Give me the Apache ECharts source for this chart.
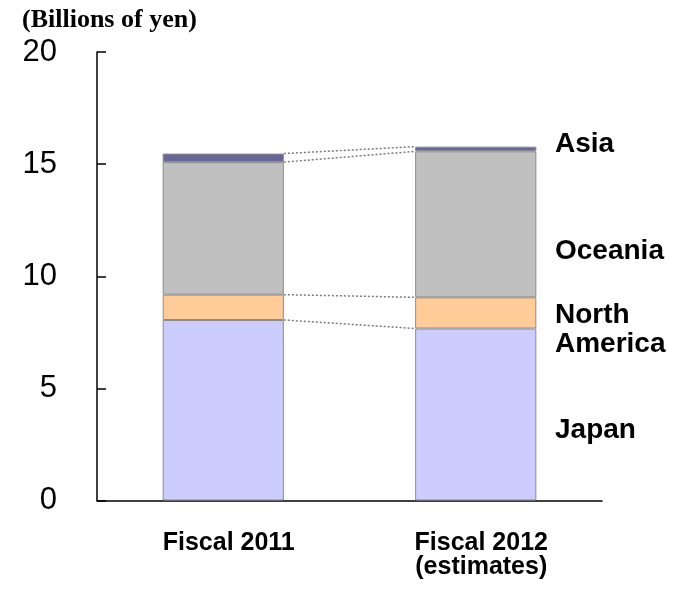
<!DOCTYPE html>
<html>
<head>
<meta charset="utf-8">
<script src="https://cdn.jsdelivr.net/npm/echarts@6/dist/echarts.min.js"></script>
<style>
  html, body { margin: 0; padding: 0; background: #fff; }
  #chart { width: 684px; height: 591px; }
</style>
</head>
<body>
<div id="chart"></div>
<script>
// Sales by region, billions of yen
const categories = ['Fiscal 2011', 'Fiscal 2012\n(estimates)'];
const regions = ['Japan', 'North America', 'Oceania', 'Asia'];
const japan = [8.05, 7.67];
const northAmerica = [1.13, 1.39];
const oceania = [5.91, 6.51];
const asia = [0.38, 0.21];
const yTicks = [0, 5, 10, 15, 20];

const regionValues = [japan, northAmerica, oceania, asia];
const regionColors = ['#CCCCFF', '#FFCC99', '#C0C0C0', '#666699'];
const barWidthRatio = 0.48;

// Cumulative tops of each stacked segment, used for the dotted connectors
const connectorData = [];
let cum0 = 0, cum1 = 0;
regionValues.forEach(function (vals) {
  cum0 += vals[0];
  cum1 += vals[1];
  connectorData.push([0, cum0, cum1]);
});

const chart = echarts.init(document.getElementById('chart'), null, { renderer: 'canvas' });

const barSeries = regions.map(function (name, i) {
  return {
    name: name,
    type: 'bar',
    stack: 'total',
    barWidth: (barWidthRatio * 100) + '%',
    data: regionValues[i],
    itemStyle: { color: regionColors[i], borderColor: '#8c8c8c', borderWidth: 1 },
    emphasis: { disabled: true },
    animation: false
  };
});

const connectorSeries = {
  type: 'custom',
  data: connectorData,
  encode: { x: 0, y: [1, 2] },
  silent: true,
  animation: false,
  z: 3,
  renderItem: function (params, api) {
    const band = api.size([1, 0])[0];
    const half = band * barWidthRatio / 2;
    const p0 = api.coord([0, api.value(1)]);
    const p1 = api.coord([1, api.value(2)]);
    return {
      type: 'line',
      shape: { x1: p0[0] + half, y1: p0[1], x2: p1[0] - half, y2: p1[1] },
      style: { stroke: '#7a7a7a', lineWidth: 1.5, lineDash: [2, 2] }
    };
  }
};

const labelFont = { fontFamily: 'Liberation Sans, Arial, sans-serif', fontWeight: 'bold', fontSize: 28, fill: '#000' };
function sideLabel(text, y) {
  return {
    type: 'text', x: 555, y: y,
    style: Object.assign({ text: text, textVerticalAlign: 'middle', textAlign: 'left' }, labelFont)
  };
}

chart.setOption({
  animation: false,
  grid: { left: 97, right: 82, top: 52, bottom: 90.5, containLabel: false },
  xAxis: {
    type: 'category',
    data: categories,
    boundaryGap: true,
    axisLine: { lineStyle: { color: '#000', width: 1.5 } },
    axisTick: { inside: true, length: 10, lineStyle: { color: '#000', width: 1.5 } },
    axisLabel: {
      margin: 31,
      padding: [0, 0, 0, 11],
      fontFamily: 'Liberation Sans, Arial, sans-serif',
      fontWeight: 'bold',
      fontSize: 25,
      lineHeight: 24,
      color: '#000'
    }
  },
  yAxis: {
    type: 'value',
    min: yTicks[0],
    max: yTicks[yTicks.length - 1],
    interval: yTicks[1] - yTicks[0],
    splitLine: { show: false },
    axisLine: { show: true, lineStyle: { color: '#000', width: 1.5 } },
    axisTick: { show: true, inside: true, length: 9, lineStyle: { color: '#000', width: 1.5 } },
    axisLabel: {
      margin: 40,
      fontFamily: 'Liberation Sans, Arial, sans-serif',
      fontSize: 31,
      color: '#000'
    }
  },
  graphic: [
    {
      type: 'text', x: 22, y: 7,
      style: {
        text: '(Billions of yen)',
        fontFamily: 'Liberation Serif, Times New Roman, serif',
        fontWeight: 'bold', fontSize: 26, fill: '#000', textVerticalAlign: 'top'
      }
    },
    sideLabel('Asia', 144),
    sideLabel('Oceania', 251),
    sideLabel('North', 315.5),
    sideLabel('America', 344),
    sideLabel('Japan', 430)
  ],
  series: barSeries.concat([connectorSeries])
});
</script>
</body>
</html>
